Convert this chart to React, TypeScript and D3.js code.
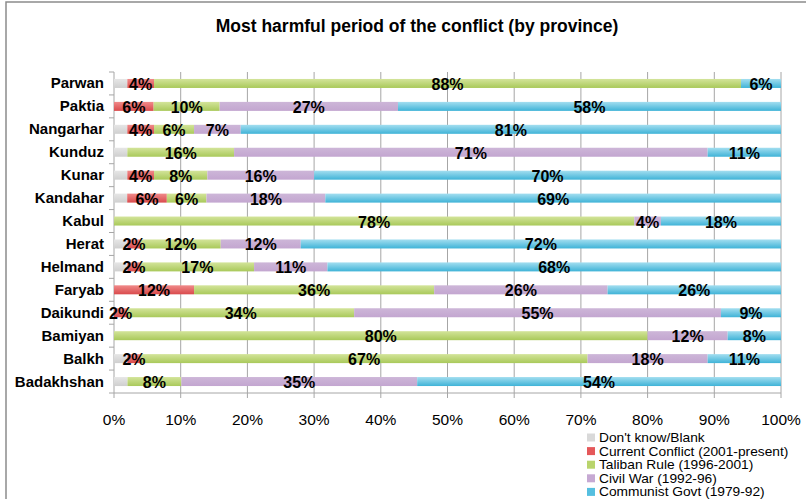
import * as d3 from 'd3';

const provinces = ['Parwan', 'Paktia', 'Nangarhar', 'Kunduz', 'Kunar', 'Kandahar', 'Kabul', 'Herat', 'Helmand', 'Faryab', 'Daikundi', 'Bamiyan', 'Balkh', 'Badakhshan'];
const seriesNames = ["Don't know/Blank", 'Current Conflict (2001-present)', 'Taliban Rule (1996-2001)', 'Civil War (1992-96)', 'Communist Govt (1979-92)'];

// values per province, in series order
const dontKnow = [2, 0, 2, 2, 2, 2, 0, 2, 2, 0, 0, 0, 2, 2];
const current = [4, 6, 4, 0, 4, 6, 0, 2, 2, 12, 2, 0, 2, 0];
const taliban = [88, 10, 6, 16, 8, 6, 78, 12, 17, 36, 34, 80, 67, 8];
const civilWar = [0, 27, 7, 71, 16, 18, 4, 12, 11, 26, 55, 12, 18, 35];
const communist = [6, 58, 81, 11, 70, 69, 18, 72, 68, 26, 9, 8, 11, 54];

const xTicks = [0, 0.1, 0.2, 0.3, 0.4, 0.5, 0.6, 0.7, 0.8, 0.9, 1];

const colors = [
  ['#e6e6e6', '#cfcfcf'],
  ['#f08a8a', '#d94a4c'],
  ['#d3e49a', '#a9c95a'],
  ['#cdb6d8', '#c3a6d0'],
  ['#a3def0', '#3fb3d7'],
];
const legendColors = ['#d9d9d9', '#e5585a', '#b9d46c', '#c6a9d3', '#55bfe0'];

const App = () => {
  const allSeries = [dontKnow, current, taliban, civilWar, communist];
  const rows = provinces.map((p, i) => {
    const r: any = { province: p };
    allSeries.forEach((s, k) => (r[k] = s[i]));
    return r;
  });
  const stacked = d3.stack<any>().keys(['0', '1', '2', '3', '4']).offset(d3.stackOffsetExpand)(rows);

  const x = d3.scaleLinear().domain([0, 1]).range([114, 781]);
  const y = d3.scaleBand().domain(provinces).range([72, 393]);
  const barH = 9;

  const font = 'Arial, "Liberation Sans", sans-serif';

  return (
    <svg width={806} height={499} style={{ position: 'absolute', left: 0, top: 0, background: '#fff' }} fontFamily={font}>
      <defs>
        {colors.map((c, i) => (
          <linearGradient key={i} id={`g${i}`} x1="0" y1="0" x2="0" y2="1">
            <stop offset="0" stopColor={c[0]} />
            <stop offset="1" stopColor={c[1]} />
          </linearGradient>
        ))}
      </defs>
      {/* frame */}
      <path d="M6,499 V2 H806" fill="none" stroke="#8c8c8c" strokeWidth={1.5} />
      <text x={417} y={32} textAnchor="middle" fontSize={17.5} fontWeight="bold">
        Most harmful period of the conflict (by province)
      </text>

      {/* gridlines */}
      {xTicks.map((t) => (
        <line key={t} x1={x(t)} x2={x(t)} y1={72} y2={398} stroke="#a6a6a6" strokeWidth={1} />
      ))}
      <line x1={114} x2={781} y1={393} y2={393} stroke="#a6a6a6" />
      {d3.range(provinces.length + 1).map((i) => (
        <line key={i} x1={109} x2={114} y1={72 + i * y.step()} y2={72 + i * y.step()} stroke="#a6a6a6" />
      ))}

      {/* bars */}
      {stacked.map((s, k) =>
        s.map((d, i) => {
          const yc = y(provinces[i])! + y.bandwidth() / 2;
          const w = x(d[1]) - x(d[0]);
          if (w <= 0) return null;
          return (
            <rect key={`${k}-${i}`} x={x(d[0])} y={yc - barH / 2} width={w} height={barH} fill={`url(#g${k})`} />
          );
        })
      )}

      {/* value labels */}
      {stacked.map((s, k) =>
        k === 0
          ? null
          : s.map((d, i) => {
              const v = allSeries[k][i];
              if (v <= 0) return null;
              const yc = y(provinces[i])! + y.bandwidth() / 2;
              return (
                <text key={`l${k}-${i}`} x={(x(d[0]) + x(d[1])) / 2} y={yc + 6.5} textAnchor="middle" fontSize={16} fontWeight="bold">
                  {v}%
                </text>
              );
            })
      )}

      {/* category labels */}
      {provinces.map((p) => (
        <text key={p} x={104} y={y(p)! + y.bandwidth() / 2 + 5} textAnchor="end" fontSize={15} fontWeight="bold">
          {p}
        </text>
      ))}

      {/* x tick labels */}
      {xTicks.map((t) => (
        <text key={t} x={x(t)} y={425} textAnchor="middle" fontSize={15.5}>
          {Math.round(t * 100)}%
        </text>
      ))}

      {/* legend */}
      {seriesNames.map((n, i) => (
        <g key={n} transform={`translate(587, ${437.5 + i * 13.6})`}>
          <rect x={0} y={-4} width={8} height={8} fill={legendColors[i]} />
          <text transform="translate(12, 4.5) scale(1.1, 1)" fontSize={12.5}>
            {n}
          </text>
        </g>
      ))}
    </svg>
  );
};

export default App;
